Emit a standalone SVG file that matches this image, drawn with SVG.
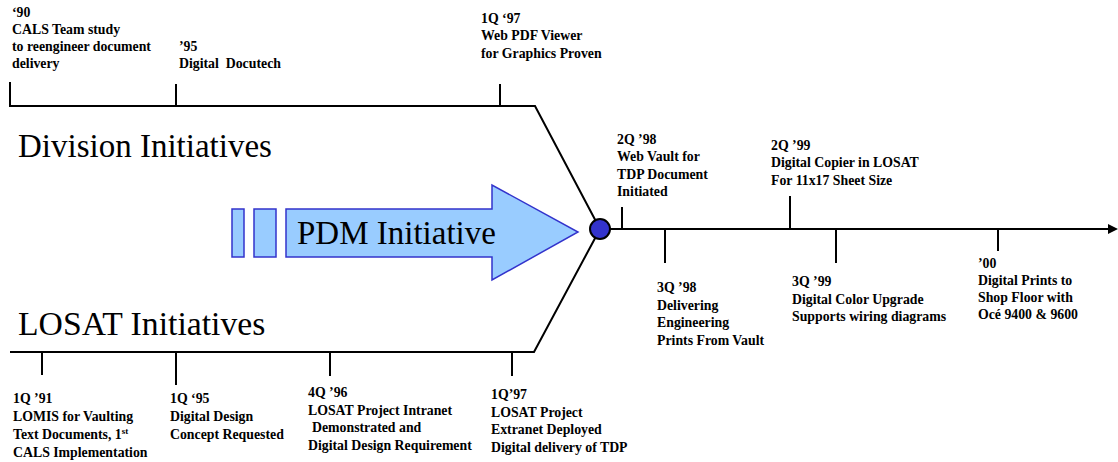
<svg xmlns="http://www.w3.org/2000/svg" width="1118" height="462" viewBox="0 0 1118 462">
<style>
.t{font-family:'Liberation Serif','Tinos','DejaVu Serif','Times New Roman',serif;font-size:13.8px;font-weight:bold;fill:#000}
.big{font-family:'Liberation Serif','Tinos','DejaVu Serif','Times New Roman',serif;font-size:33px;fill:#000}
.ln{fill:none;stroke:#000;stroke-width:2}
.blue{fill:#99CCFF;stroke:#3333CC;stroke-width:1.5}
</style>
<defs>
<marker id="ah" viewBox="0 0 10 10" refX="0" refY="5" markerWidth="10" markerHeight="10" markerUnits="userSpaceOnUse" orient="auto">
<path d="M0,0 L10,5 L0,10 Z" fill="#000"/>
</marker>
</defs>
<rect width="1118" height="462" fill="#fff"/>
<g id="connectors">
<path class="ln" d="M10,82 V106 H535 L600,229"/>
<path class="ln" d="M10,352 H534 L600,229"/>
<line class="ln" x1="176" y1="84" x2="176" y2="106"/>
<line class="ln" x1="500" y1="84" x2="500" y2="106"/>
<line class="ln" x1="42" y1="352" x2="42" y2="375"/>
<line class="ln" x1="176" y1="352" x2="176" y2="385"/>
<line class="ln" x1="330" y1="352" x2="330" y2="376"/>
<line class="ln" x1="512" y1="352" x2="512" y2="376"/>
<line class="ln" x1="605" y1="229" x2="1108" y2="229" marker-end="url(#ah)"/>
<line class="ln" x1="622" y1="207" x2="622" y2="229"/>
<line class="ln" x1="790" y1="196" x2="790" y2="229"/>
<line class="ln" x1="665" y1="229" x2="665" y2="263"/>
<line class="ln" x1="836" y1="229" x2="836" y2="263"/>
<line class="ln" x1="998" y1="229" x2="998" y2="251"/>
</g>
<g id="hub">
<circle cx="600" cy="229" r="10" fill="#3333CC" stroke="#000" stroke-width="2"/>
</g>
<g id="pdm-initiative">
<rect class="blue" x="232" y="209" width="12" height="48"/>
<rect class="blue" x="254" y="209" width="22" height="48"/>
<polygon class="blue" points="286,209 492,209 492,185 578,232 492,280 492,257 286,257"/>
<text class="big" x="297" y="244">PDM Initiative</text>
</g>
<g id="division-title"><text class="big" x="18" y="157">Division Initiatives</text></g>
<g id="losat-title"><text class="big" x="18" y="335" style="font-size:33.7px">LOSAT Initiatives</text></g>
<g id="n90">
<text class="t" x="12" y="16.5">‘90</text>
<text class="t" x="12" y="33.5">CALS Team study</text>
<text class="t" x="12" y="50.5">to reengineer document</text>
<text class="t" x="12" y="67.5">delivery</text>
</g>
<g id="n95">
<text class="t" x="179" y="50.5">’95</text>
<text class="t" x="179" y="67.5" xml:space="preserve">Digital  Docutech</text>
</g>
<g id="n1q97top">
<text class="t" x="481" y="22.5">1Q ‘97</text>
<text class="t" x="481" y="40">Web PDF Viewer</text>
<text class="t" x="481" y="57.5">for Graphics Proven</text>
</g>
<g id="n2q98">
<text class="t" x="617" y="143.5">2Q ’98</text>
<text class="t" x="617" y="161">Web Vault for</text>
<text class="t" x="617" y="178.5">TDP Document</text>
<text class="t" x="617" y="196">Initiated</text>
</g>
<g id="n2q99">
<text class="t" x="771" y="149.5">2Q ’99</text>
<text class="t" x="771" y="167">Digital Copier in LOSAT</text>
<text class="t" x="771" y="184.5">For 11x17 Sheet Size</text>
</g>
<g id="n3q98">
<text class="t" x="657" y="292">3Q ’98</text>
<text class="t" x="657" y="309.5">Delivering</text>
<text class="t" x="657" y="327">Engineering</text>
<text class="t" x="657" y="344.5">Prints From Vault</text>
</g>
<g id="n3q99">
<text class="t" x="792" y="286">3Q ’99</text>
<text class="t" x="792" y="303.5">Digital Color Upgrade</text>
<text class="t" x="792" y="321">Supports wiring diagrams</text>
</g>
<g id="n00">
<text class="t" x="978" y="267.5">’00</text>
<text class="t" x="978" y="285">Digital Prints to</text>
<text class="t" x="978" y="302">Shop Floor with</text>
<text class="t" x="978" y="319">Océ 9400 &amp; 9600</text>
</g>
<g id="n1q91">
<text class="t" x="13" y="403">1Q ’91</text>
<text class="t" x="13" y="421">LOMIS for Vaulting</text>
<text class="t" x="13" y="439">Text Documents, 1<tspan font-size="9" dy="-5">st</tspan></text>
<text class="t" x="13" y="457">CALS Implementation</text>
</g>
<g id="n1q95">
<text class="t" x="170" y="403">1Q ‘95</text>
<text class="t" x="170" y="421">Digital Design</text>
<text class="t" x="170" y="439">Concept Requested</text>
</g>
<g id="n4q96">
<text class="t" x="308" y="397">4Q ’96</text>
<text class="t" x="308" y="414.5">LOSAT Project Intranet</text>
<text class="t" x="312" y="432">Demonstrated and</text>
<text class="t" x="308" y="449.5">Digital Design Requirement</text>
</g>
<g id="n1q97bottom">
<text class="t" x="491" y="399">1Q’97</text>
<text class="t" x="491" y="416.5">LOSAT Project</text>
<text class="t" x="491" y="434">Extranet Deployed</text>
<text class="t" x="491" y="451.5">Digital delivery of TDP</text>
</g>
</svg>
